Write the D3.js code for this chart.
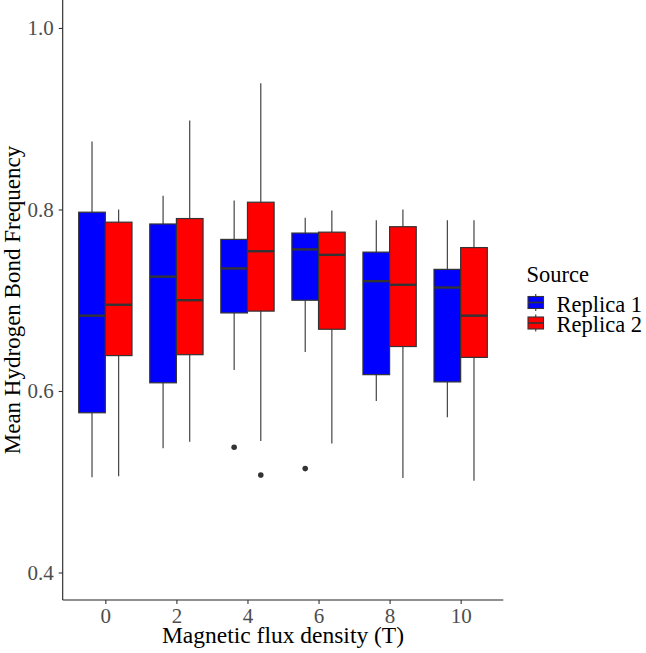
<!DOCTYPE html>
<html><head><meta charset="utf-8">
<script src="https://cdn.jsdelivr.net/npm/d3@7"></script>
<style>body{margin:0;background:#fff}svg{display:block}</style>
</head><body>
<script>
const categories = ["0","2","4","6","8","10"];
const seriesNames = ["Replica 1","Replica 2"];
const seriesColors = ["#0000FF","#FF0000"];
// box statistics per category: [whiskerLow, q1, median, q3, whiskerHigh]
const replica1 = [
  [0.505, 0.576, 0.683, 0.797, 0.875],
  [0.537, 0.609, 0.726, 0.784, 0.815],
  [0.623, 0.686, 0.735, 0.767, 0.810],
  [0.643, 0.700, 0.756, 0.774, 0.791],
  [0.589, 0.618, 0.721, 0.753, 0.788],
  [0.571, 0.610, 0.714, 0.734, 0.788]
];
const replica2 = [
  [0.506, 0.639, 0.695, 0.786, 0.800],
  [0.544, 0.640, 0.700, 0.790, 0.898],
  [0.545, 0.688, 0.754, 0.808, 0.939],
  [0.542, 0.668, 0.750, 0.775, 0.799],
  [0.504, 0.649, 0.717, 0.781, 0.800],
  [0.501, 0.637, 0.683, 0.758, 0.788]
];
const outliers1 = [[], [], [0.538], [0.5145], [], []];
const outliers2 = [[], [], [0.5075], [], [], []];
const yTicks = [0.4, 0.6, 0.8, 1.0];
const xTitle = "Magnetic flux density (T)";
const yTitle = "Mean Hydrogen Bond Frequency";
const legendTitle = "Source";

(function draw() {
const W = 646, H = 653;
const pLeft = 62.7, pRight = 503.3, pTop = 0, pBottom = 600;
const svg = d3.select("body").append("svg").attr("width", W).attr("height", H);
const font = "'Liberation Serif','Times New Roman',serif";

const x = d3.scalePoint().domain(categories).range([pLeft, pRight]).padding(0.6);
const y = d3.scaleLinear().domain([0.3697, 1.0308]).range([pBottom, pTop]);
const step = x.step();
const bw = 0.375 * step;

const series = [replica1, replica2];
const outs = [outliers1, outliers2];
const stroke = "#333333";

series.forEach((data, s) => {
  const g = svg.append("g");
  data.forEach((d, i) => {
    const cx = x(categories[i]) + (s === 0 ? -bw/2 : bw/2);
    g.append("line").attr("x1", cx).attr("x2", cx).attr("y1", y(d[0])).attr("y2", y(d[1]))
      .attr("stroke", stroke).attr("stroke-width", 1.1);
    g.append("line").attr("x1", cx).attr("x2", cx).attr("y1", y(d[3])).attr("y2", y(d[4]))
      .attr("stroke", stroke).attr("stroke-width", 1.1);
    g.append("rect").attr("x", cx - bw/2).attr("width", bw)
      .attr("y", y(d[3])).attr("height", y(d[1]) - y(d[3]))
      .attr("fill", seriesColors[s]).attr("stroke", stroke).attr("stroke-width", 1.2);
    g.append("line").attr("x1", cx - bw/2).attr("x2", cx + bw/2).attr("y1", y(d[2])).attr("y2", y(d[2]))
      .attr("stroke", stroke).attr("stroke-width", 2.4);
    outs[s][i].forEach(o => {
      g.append("circle").attr("cx", cx).attr("cy", y(o)).attr("r", 2.8).attr("fill", stroke);
    });
  });
});

const yAxis = svg.append("g").attr("transform", `translate(${pLeft},0)`)
  .call(d3.axisLeft(y).tickValues(yTicks).tickFormat(d3.format(".1f")).tickSize(4).tickPadding(5));
const xAxis = svg.append("g").attr("transform", `translate(0,${pBottom})`)
  .call(d3.axisBottom(x).tickSize(4).tickPadding(4));
[yAxis, xAxis].forEach(a => {
  a.select(".domain").attr("stroke", "#222").attr("stroke-width", 1.1);
  a.selectAll(".tick line").attr("stroke", "#333").attr("stroke-width", 1.1);
  a.selectAll(".tick text").attr("fill", "#4D4D4D").style("font-family", font).style("font-size", "21px");
});
xAxis.selectAll(".tick text").attr("y", 23.3).attr("dy", null);
yAxis.selectAll(".tick text").attr("dy", "0.33em");
xAxis.select(".domain").attr("d", `M${pLeft},0H${pRight}`);
yAxis.select(".domain").attr("d", `M0,${pBottom}V${pTop}`);

svg.append("text").attr("x", (pLeft + pRight)/2).attr("y", 643).attr("text-anchor", "middle")
  .style("font-family", font).style("font-size", "23.5px").attr("fill", "#000").text(xTitle);
svg.append("text").attr("transform", `translate(20,${(pTop+pBottom)/2}) rotate(-90)`).attr("text-anchor", "middle")
  .style("font-family", font).style("font-size", "23px").attr("fill", "#000").text(yTitle);

const lg = svg.append("g");
lg.append("text").attr("x", 526.5).attr("y", 281.5).style("font-family", font).style("font-size", "22.5px").text(legendTitle);
seriesNames.forEach((n, s) => {
  const ky = 294 + s * 20.5;
  const kx = 528, kw = 15.5, kh = 17;
  lg.append("line").attr("x1", kx + kw/2).attr("x2", kx + kw/2).attr("y1", ky).attr("y2", ky + kh)
    .attr("stroke", stroke).attr("stroke-width", 1.1);
  lg.append("rect").attr("x", kx).attr("y", ky + 2.5).attr("width", kw).attr("height", kh - 5)
    .attr("fill", seriesColors[s]).attr("stroke", stroke).attr("stroke-width", 1.1);
  lg.append("line").attr("x1", kx).attr("x2", kx + kw).attr("y1", ky + kh/2).attr("y2", ky + kh/2)
    .attr("stroke", stroke).attr("stroke-width", 1.6);
  lg.append("text").attr("x", 556.5).attr("y", 311.5 + s * 20.5).style("font-family", font).style("font-size", "22.5px").text(n);
});
})();
</script>
</body></html>
